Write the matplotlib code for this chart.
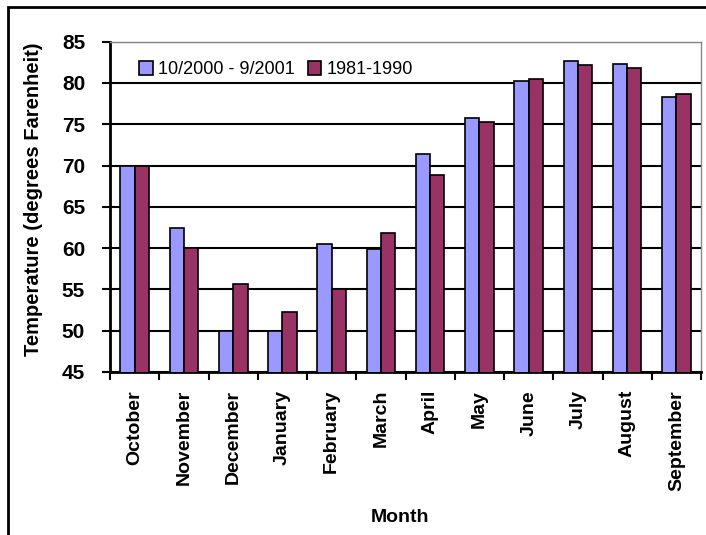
import numpy as np
import matplotlib.pyplot as plt
from matplotlib.patches import Rectangle

plt.rcParams["font.family"] = ["Liberation Sans", "DejaVu Sans"]

months = ["October", "November", "December", "January", "February", "March",
          "April", "May", "June", "July", "August", "September"]
temp_2000_2001 = [70.0, 62.4, 50.0, 50.0, 60.5, 59.9, 71.4, 75.7, 80.3, 82.7, 82.3, 78.3]
temp_1981_1990 = [70.0, 60.0, 55.7, 52.3, 55.0, 61.8, 68.8, 75.3, 80.5, 82.2, 81.8, 78.7]

fig = plt.figure(figsize=(7.06, 5.35), dpi=100)
ax = fig.add_axes([0.156, 0.305, 0.837, 0.617])

# outer frame around the chart
fig.patches.append(Rectangle((8 / 706, -0.1), 1.2, 1 - 7 / 535 + 0.1,
                             transform=fig.transFigure, fill=False,
                             edgecolor="black", linewidth=2))

x = np.arange(len(months))
w = 0.29
ax.bar(x - w / 2, temp_2000_2001, w, color="#9999FF",
       edgecolor="black", linewidth=1.2, label="10/2000 - 9/2001", zorder=3)
ax.bar(x + w / 2, temp_1981_1990, w, color="#993366",
       edgecolor="black", linewidth=1.2, label="1981-1990", zorder=3)

ax.set_ylim(45, 85)
ax.set_xlim(-0.5, len(months) - 0.5)
ax.set_yticks(range(45, 86, 5))
ax.yaxis.grid(True, color="black", linewidth=1.5, zorder=0)
ax.set_axisbelow(True)

ax.set_xticks(x)
ax.set_xticklabels(months, rotation=90, fontsize=14, fontweight="bold")
ax.set_xticks(np.arange(-0.5, len(months)), minor=True)
ax.tick_params(axis="x", which="major", length=0, pad=13)
ax.tick_params(axis="x", which="minor", length=6, width=1.5, direction="out")
ax.tick_params(axis="y", length=6, width=1.5, labelsize=15, pad=12)
for lbl in ax.get_yticklabels():
    lbl.set_fontweight("bold")

for side in ["left", "bottom"]:
    ax.spines[side].set_linewidth(2)
for side in ["top", "right"]:
    ax.spines[side].set_color("#888888")
    ax.spines[side].set_linewidth(1)

ax.set_ylabel("Temperature (degrees Farenheit)", fontsize=14.5, fontweight="bold")
ax.yaxis.set_label_coords(-0.113, 0.524)
ax.set_xlabel("Month", fontsize=14, fontweight="bold")
ax.xaxis.set_label_coords(0.49, -0.415)

ax.legend(loc="upper left", bbox_to_anchor=(0.022, 0.99), ncol=2, frameon=False,
          fontsize=13, handlelength=0.75, handleheight=0.75, handletextpad=0.3,
          columnspacing=0.7)

fig.savefig("out.png", dpi=100)
